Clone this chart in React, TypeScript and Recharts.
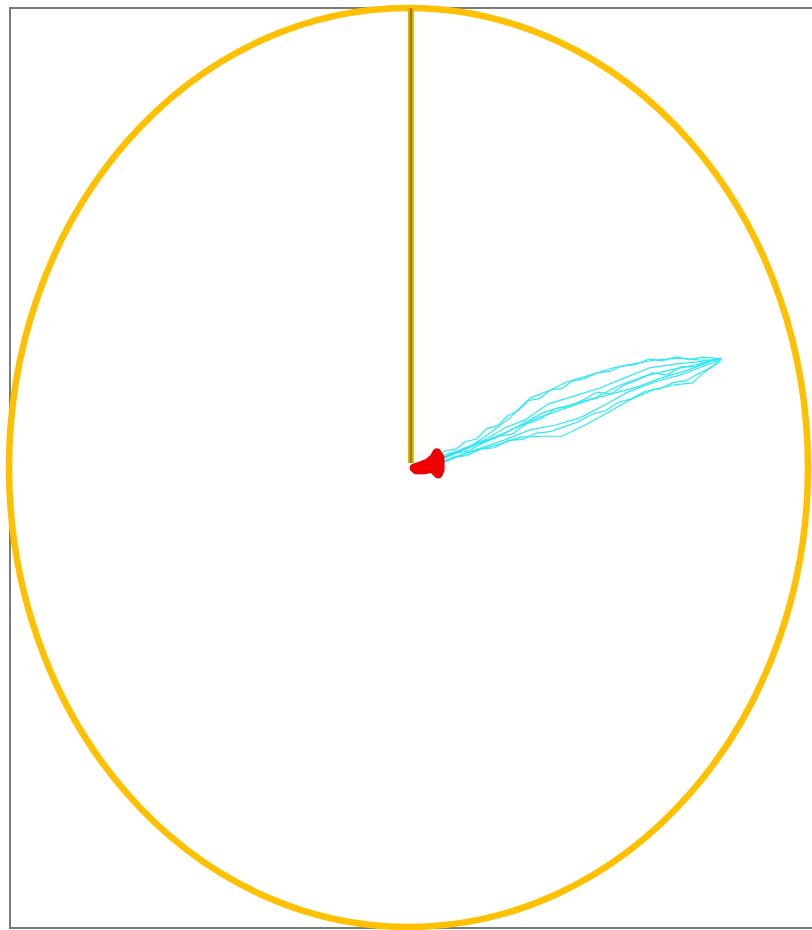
import React from "react";
import {
  ComposedChart,
  Line,
  XAxis,
  YAxis,
  ReferenceArea,
  ReferenceLine,
} from "recharts";

type Pt = { x: number; y: number };

// plot domain, both axes
const domain: [number, number] = [-100, 100];

// cyan trajectories
const traceA: Pt[] = [
  { x: 5.9, y: 1.2 }, { x: 10.4, y: 2.7 }, { x: 15.4, y: 4.5 }, { x: 20.4, y: 7.5 },
  { x: 25.4, y: 10.8 }, { x: 30.4, y: 15.1 }, { x: 35.4, y: 16.8 }, { x: 39.6, y: 18.6 },
  { x: 45.4, y: 20.1 }, { x: 50.9, y: 21.6 }, { x: 56.1, y: 22.5 }, { x: 61.6, y: 23.4 },
  { x: 67.9, y: 23.8 }, { x: 72.9, y: 23.4 }, { x: 77.9, y: 23.4 },
];
const traceB: Pt[] = [
  { x: 7.9, y: 1.2 }, { x: 15.4, y: 3.4 }, { x: 22.9, y: 5.1 }, { x: 27.9, y: 6.6 },
  { x: 34.1, y: 6.8 }, { x: 38.4, y: 6.8 }, { x: 44.1, y: 9.2 }, { x: 49.6, y: 11.8 },
  { x: 55.4, y: 14.7 }, { x: 61.1, y: 16.9 }, { x: 66.6, y: 18.0 }, { x: 71.1, y: 18.4 },
  { x: 74.1, y: 20.8 }, { x: 77.9, y: 23.0 },
];
const traceC: Pt[] = [
  { x: 7.4, y: 1.6 }, { x: 14.1, y: 4.2 }, { x: 21.6, y: 6.4 }, { x: 27.9, y: 9.2 },
  { x: 34.1, y: 12.1 }, { x: 40.4, y: 13.6 }, { x: 46.6, y: 15.1 }, { x: 52.9, y: 17.9 },
  { x: 59.1, y: 19.9 }, { x: 65.4, y: 21.2 }, { x: 71.6, y: 22.3 }, { x: 78.4, y: 23.8 },
];
const traceD: Pt[] = [
  { x: 6.9, y: 2.1 }, { x: 12.9, y: 3.8 }, { x: 19.1, y: 6.0 }, { x: 24.1, y: 8.6 },
  { x: 29.1, y: 10.3 }, { x: 34.9, y: 13.8 }, { x: 41.6, y: 15.6 }, { x: 47.9, y: 17.3 },
  { x: 54.1, y: 19.5 }, { x: 60.4, y: 21.7 }, { x: 66.6, y: 22.5 }, { x: 72.4, y: 23.0 },
  { x: 77.9, y: 23.6 },
];
const traceE: Pt[] = [
  { x: 8.4, y: 1.0 }, { x: 16.6, y: 3.8 }, { x: 24.1, y: 6.0 }, { x: 30.4, y: 8.2 },
  { x: 36.6, y: 9.2 }, { x: 42.9, y: 10.8 }, { x: 49.1, y: 13.6 }, { x: 54.9, y: 16.4 },
  { x: 61.6, y: 18.6 }, { x: 67.9, y: 20.1 }, { x: 72.9, y: 21.7 }, { x: 77.4, y: 23.2 },
];
const traceF: Pt[] = [
  { x: 9.1, y: 2.1 }, { x: 17.4, y: 5.1 }, { x: 25.9, y: 8.2 }, { x: 32.4, y: 10.8 },
  { x: 37.9, y: 12.5 }, { x: 45.4, y: 14.7 }, { x: 51.6, y: 16.2 }, { x: 57.9, y: 17.7 },
  { x: 63.4, y: 19.5 }, { x: 69.9, y: 21.2 }, { x: 75.4, y: 23.0 },
];
const traceG: Pt[] = [
  { x: 6.5, y: 1.8 }, { x: 9.0, y: 3.6 }, { x: 11.8, y: 4.0 }, { x: 14.2, y: 5.6 },
  { x: 17.0, y: 6.2 }, { x: 19.5, y: 8.4 }, { x: 22.3, y: 9.1 }, { x: 24.8, y: 11.2 },
  { x: 27.5, y: 12.4 }, { x: 30.1, y: 14.6 }, { x: 32.8, y: 15.0 }, { x: 35.6, y: 16.9 },
  { x: 38.4, y: 17.2 }, { x: 41.2, y: 18.9 }, { x: 44.0, y: 19.3 }, { x: 47.1, y: 20.6 },
  { x: 50.3, y: 20.9 }, { x: 53.5, y: 22.1 }, { x: 56.8, y: 22.4 }, { x: 60.2, y: 23.6 },
  { x: 63.5, y: 23.2 }, { x: 66.9, y: 24.1 }, { x: 70.2, y: 23.5 }, { x: 73.8, y: 24.0 },
  { x: 78.0, y: 23.7 },
];
const traceH: Pt[] = [
  { x: 8.0, y: 0.6 }, { x: 11.0, y: 2.2 }, { x: 14.5, y: 2.6 }, { x: 18.0, y: 4.0 },
  { x: 21.5, y: 4.3 }, { x: 25.0, y: 5.9 }, { x: 28.6, y: 6.1 }, { x: 32.0, y: 7.5 },
  { x: 35.5, y: 7.8 }, { x: 39.0, y: 8.9 }, { x: 42.4, y: 9.9 }, { x: 45.9, y: 11.6 },
  { x: 49.2, y: 12.3 }, { x: 52.6, y: 14.2 }, { x: 55.9, y: 15.0 }, { x: 59.3, y: 16.6 },
  { x: 62.8, y: 17.1 }, { x: 66.1, y: 18.4 }, { x: 69.5, y: 18.9 }, { x: 72.5, y: 20.4 },
  { x: 75.6, y: 21.7 }, { x: 78.2, y: 23.4 },
];
const traceI: Pt[] = [
  { x: 7.2, y: 1.4 }, { x: 10.6, y: 3.0 }, { x: 14.8, y: 3.5 }, { x: 18.3, y: 5.2 },
  { x: 22.6, y: 6.8 }, { x: 26.1, y: 7.3 }, { x: 29.5, y: 9.5 }, { x: 33.2, y: 10.6 },
  { x: 36.8, y: 12.9 }, { x: 40.1, y: 13.2 }, { x: 43.9, y: 14.8 }, { x: 47.2, y: 16.4 },
  { x: 50.6, y: 16.0 }, { x: 54.3, y: 18.1 }, { x: 57.8, y: 19.2 }, { x: 61.0, y: 20.6 },
  { x: 64.7, y: 20.1 }, { x: 68.2, y: 21.9 }, { x: 71.9, y: 22.0 }, { x: 75.1, y: 23.1 },
  { x: 78.3, y: 23.6 },
];
const cyanTraces = [traceA, traceB, traceC, traceD, traceE, traceF, traceG, traceH, traceI];

// red cluster near the origin
const redTrace: Pt[] = [
  { x: 1.4, y: -0.1 }, { x: 2.9, y: 0.3 }, { x: 4.9, y: 1.0 }, { x: 6.4, y: 2.1 },
  { x: 7.1, y: 3.2 }, { x: 7.9, y: 2.1 }, { x: 7.9, y: -0.5 }, { x: 7.4, y: -1.4 },
  { x: 5.9, y: -0.1 }, { x: 3.9, y: -0.5 }, { x: 1.9, y: -0.5 }, { x: 4.5, y: 0.2 },
  { x: 6.8, y: 0.6 }, { x: 7.3, y: 1.8 },
];

// vertical stem from the origin to the rim
const stem: Pt[] = [
  { x: 0.6, y: 1.0 },
  { x: 0.6, y: 100 },
];

const Rim = (props: any) => {
  const { x, y, width, height } = props;
  return (
    <ellipse
      cx={x + width / 2}
      cy={y + height / 2}
      rx={width / 2}
      ry={height / 2}
      fill="none"
      stroke="#FFC000"
      strokeWidth={6.5}
    />
  );
};

export default function App() {
  return (
    <div
      style={{
        position: "absolute",
        left: 0,
        top: 0,
        width: 812,
        height: 930,
        overflow: "hidden",
        background: "#fff",
      }}
    >
      <div
        style={{
          position: "absolute",
          left: 9,
          top: 7,
          width: 830,
          height: 922,
          border: "2px solid #7a7a7a",
          boxSizing: "border-box",
        }}
      />
      <div style={{ position: "absolute", left: 0, top: 0 }}>
        <ComposedChart
          width={830}
          height={930}
          margin={{ top: 8, right: 22, bottom: 3, left: 9 }}
        >
          <XAxis type="number" dataKey="x" domain={domain} hide allowDataOverflow />
          <YAxis type="number" dataKey="y" domain={domain} hide allowDataOverflow />
          <ReferenceArea x1={-100} x2={100} y1={-100} y2={100} shape={Rim} />
          <ReferenceLine segment={stem} stroke="#E5B400" strokeWidth={6} />
          <ReferenceLine segment={stem} stroke="#A08000" strokeWidth={2.5} />
          {cyanTraces.map((t, i) => (
            <Line
              key={i}
              data={t}
              dataKey="y"
              type="linear"
              stroke="#2BE8F4"
              strokeWidth={1.2}
              dot={false}
              isAnimationActive={false}
            />
          ))}
          <Line
            data={redTrace}
            dataKey="y"
            type="linear"
            stroke="#F00000"
            strokeWidth={9}
            strokeLinejoin="round"
            strokeLinecap="round"
            dot={false}
            isAnimationActive={false}
          />
        </ComposedChart>
      </div>
    </div>
  );
}
